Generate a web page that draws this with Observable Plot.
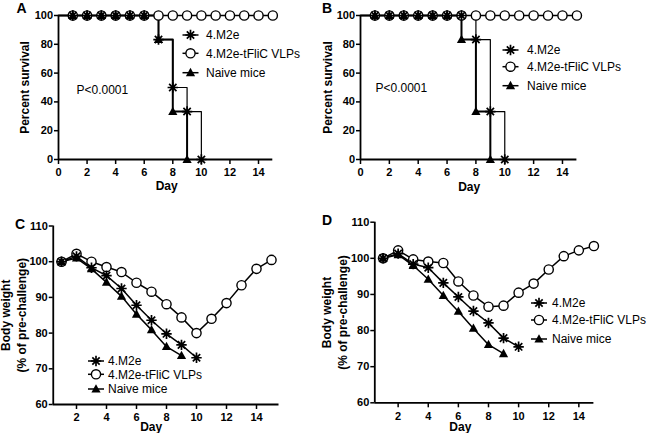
<!DOCTYPE html>
<html><head><meta charset="utf-8">
<script src="https://cdn.jsdelivr.net/npm/d3@7"></script>
<script src="https://cdn.jsdelivr.net/npm/@observablehq/plot@0.6"></script>
<style>
body{margin:0;background:#fff;}
#root{position:relative;width:650px;height:433px;overflow:hidden;background:#fff;font-family:"Liberation Sans",Arial,sans-serif;}
</style></head>
<body><div id="root"></div>
<script>
// ---------------- DATA ----------------
const seriesNames = ["4.M2e", "4.M2e-tFliC VLPs", "Naive mice"];
const panelLetters = ["A", "B", "C", "D"];
const pValueText = "P<0.0001";

const survDays = [0,1,2,3,4,5,6,7,8,9,10,11,12,13,14,15];
const survA_m2e   = [100,100,100,100,100,100,100,83.3,50,33.3,0];
const survA_vlp   = [100,100,100,100,100,100,100,100,100,100,100,100,100,100,100,100];
const survA_naive = [100,100,100,100,100,100,100,83.3,33.3,0];
const survB_m2e   = [100,100,100,100,100,100,100,100,83.3,33.3,0];
const survB_vlp   = [100,100,100,100,100,100,100,100,100,100,100,100,100,100,100,100];
const survB_naive = [100,100,100,100,100,100,100,83.3,33.3,0];

const weightDays = [1,2,3,4,5,6,7,8,9,10,11,12,13,14,15];
const wC_m2e   = [100,101.5,98.3,96.1,92.5,87.8,83.6,79.8,76.7,73.1];
const wC_vlp   = [100,102.2,100,98.5,97.1,94.1,91.6,88.1,84.4,80,84,88.4,93.4,98,100.5];
const wC_naive = [100,101,98,94.2,90.3,85.3,80.9,76.2,73.7];
const wD_m2e   = [100,101.3,98.4,97.4,93.2,89.3,85.4,82.1,77.9,75.5];
const wD_vlp   = [100,102.2,99.7,99.1,98.7,93.6,89.7,86.6,86.9,90.5,93,96.9,100.6,102.2,103.4];
const wD_naive = [100,101,98,94.2,89.7,85.3,80.6,76.1,73.6];

const survXTicks = [0,2,4,6,8,10,12,14];
const survYTicks = [0,20,40,60,80,100];
const weightXTicks = [2,4,6,8,10,12,14];
const weightYTicks = [60,70,80,90,100,110];

const survYLabel = "Percent survival";
const weightYLabel1 = "Body weight";
const weightYLabel2 = "(% of pre-challenge)";
const xLabel = "Day";

// ---------------- SYMBOLS ----------------
const ASTERISK = {draw(ctx, size) {
  const r = Math.sqrt(size / Math.PI);
  for (let k = 0; k < 4; k++) {
    const a = k * Math.PI / 4, dx = r * Math.cos(a), dy = r * Math.sin(a);
    ctx.moveTo(-dx, -dy); ctx.lineTo(dx, dy);
  }
}};
const TRIANGLE = {draw(ctx, size) {
  const r = Math.sqrt(size / Math.PI);
  ctx.moveTo(0, -r * 1.05); ctx.lineTo(r, r * 0.75); ctx.lineTo(-r, r * 0.75); ctx.closePath();
}};
const FONT = "Liberation Sans, Arial, sans-serif";
const svgStyle = {background: "transparent", overflow: "visible", fontFamily: FONT, fontSize: "11px", fontWeight: "bold", color: "black"};

const root = document.getElementById("root");
function place(el, left, top) {
  el.style.position = "absolute"; el.style.left = left + "px"; el.style.top = top + "px";
  el.style.maxWidth = "none";
  root.appendChild(el);
}

function seriesMarks(S, markers, widths) {
  const c = {x: "day", y: "v", stroke: "black"};
  return [
    Plot.line(S[1], {...c, curve: widths.curve, strokeWidth: widths.vlp}),
    Plot.line(S[0], {...c, curve: widths.curve, strokeWidth: widths.m2e}),
    Plot.line(S[2], {...c, curve: widths.curve, strokeWidth: widths.naive}),
    Plot.dot(markers[1], {x: "day", y: "v", r: 4.6, fill: "white", stroke: "black", strokeWidth: 1.4}),
    Plot.dot(markers[2], {x: "day", y: "v", symbol: TRIANGLE, r: 4.6, fill: "black", stroke: "none"}),
    Plot.dot(markers[0], {x: "day", y: "v", symbol: ASTERISK, r: 5.2, fill: "none", stroke: "black", strokeWidth: 1.7})
  ];
}

function yLabel(text, dx) {
  return Plot.text([text], {text: d => d, frameAnchor: "left", textAnchor: "middle", lineAnchor: "middle",
    rotate: -90, dx, fontSize: 12, fontWeight: "bold"});
}
function dayLabel(dx, dy) {
  return Plot.text([xLabel], {text: d => d, frameAnchor: "bottom", textAnchor: "middle", lineAnchor: "bottom",
    dx, dy, fontSize: 12, fontWeight: "bold"});
}

function survivalPlot(cfg) {
  const toRows = vals => vals.map((v, i) => ({day: survDays[i], v}));
  const S = [cfg.m2e, cfg.vlp, cfg.naive].map(toRows);
  const markers = S.map(rows => rows.filter(d => d.day >= 1));
  return Plot.plot({
    width: cfg.width, height: 215,
    marginLeft: cfg.ml, marginRight: cfg.mr, marginTop: 15, marginBottom: 56,
    style: svgStyle,
    x: {domain: [0, 15], label: null},
    y: {domain: [0, 100], label: null},
    marks: [
      Plot.axisX({ticks: survXTicks, tickSize: 5, tickPadding: 4, strokeWidth: 1.5, label: null}),
      Plot.axisY({ticks: survYTicks, tickSize: 4, tickPadding: 1.5, strokeWidth: 1.5, label: null}),
      Plot.ruleY([0], {x1: 0, x2: 15, strokeWidth: 1.8}),
      Plot.ruleX([0], {y1: 0, y2: 100, strokeWidth: 1.8}),
      ...seriesMarks(S, markers, {curve: "step-after", vlp: 1.5, m2e: 1.2, naive: 2}),
      Plot.text([{x: cfg.px, y: cfg.py, t: pValueText}], {x: "x", y: "y", text: "t", textAnchor: "start", lineAnchor: "bottom", fontSize: 12, fontWeight: "normal"}),
      yLabel(survYLabel, cfg.ylDx),
      dayLabel(cfg.dayDx, cfg.dayDy)
    ]
  });
}

function weightPlot(cfg) {
  const toRows = vals => vals.map((v, i) => ({day: weightDays[i], v}));
  const S = [cfg.m2e, cfg.vlp, cfg.naive].map(toRows);
  return Plot.plot({
    width: cfg.width, height: 218,
    marginLeft: cfg.ml, marginRight: cfg.mr, marginTop: cfg.mt, marginBottom: cfg.mb,
    style: svgStyle,
    x: {domain: cfg.xDomain, label: null},
    y: {domain: [60, 110], label: null},
    marks: [
      Plot.axisX({ticks: weightXTicks, tickSize: 5, tickPadding: 4, strokeWidth: 1.5, label: null}),
      Plot.axisY({ticks: weightYTicks, tickSize: 4, tickPadding: 1.5, strokeWidth: 1.5, label: null}),
      Plot.ruleY([60], {x1: cfg.xDomain[0], x2: cfg.xDomain[1], strokeWidth: 1.8}),
      Plot.ruleX([cfg.xDomain[0]], {y1: 60, y2: 110, strokeWidth: 1.8}),
      ...seriesMarks(S, S, {curve: "linear", vlp: 1.5, m2e: 1.5, naive: 1.5}),
      yLabel(weightYLabel1, cfg.yl1Dx),
      yLabel(weightYLabel2, cfg.yl2Dx),
      dayLabel(cfg.dayDx, cfg.dayDy)
    ]
  });
}

place(survivalPlot({m2e: survA_m2e, vlp: survA_vlp, naive: survA_naive, width: 325, ml: 58, mr: 52.7,
  px: 1.26, py: 45.6, ylDx: -33, dayDx: 1, dayDy: 30.5}), 0, 0);
place(survivalPlot({m2e: survB_m2e, vlp: survB_vlp, naive: survB_naive, width: 335, ml: 45, mr: 73.6,
  px: 1.04, py: 47.2, ylDx: -32, dayDx: 0.5, dayDy: 31}), 315, 0);
place(weightPlot({m2e: wC_m2e, vlp: wC_vlp, naive: wC_naive, width: 325, ml: 52.75, mr: 46.5, mt: 10.5, mb: 29,
  xDomain: [0.45, 15.5], yl1Dx: -46.75, yl2Dx: -30.75, dayDx: -15, dayDy: 26.5}), 0, 215);
place(weightPlot({m2e: wD_m2e, vlp: wD_vlp, naive: wD_naive, width: 335, ml: 59.3, mr: 56.6, mt: 6.7, mb: 30.7,
  xDomain: [0.45, 15], yl1Dx: -47.3, yl2Dx: -31.3, dayDx: -24, dayDy: 28}), 315, 215);

// ---------------- OVERLAY: panel letters & legends ----------------
const overlay = d3.select(root).append("svg")
  .attr("width", 650).attr("height", 433)
  .style("position", "absolute").style("left", "0px").style("top", "0px")
  .style("font-family", FONT);

const letterPos = [[16.5, 13], [322, 13], [15, 229], [322, 225]];
panelLetters.forEach((t, i) => {
  overlay.append("text").attr("x", letterPos[i][0]).attr("y", letterPos[i][1])
    .attr("font-size", 14).attr("font-weight", "bold").text(t);
});

const legendSymbols = [
  {type: ASTERISK, r: 5.2, fill: "none", stroke: "black", sw: 1.7},
  {type: d3.symbolCircle, r: 4.6, fill: "white", stroke: "black", sw: 1.4},
  {type: TRIANGLE, r: 4.6, fill: "black", stroke: "none", sw: 0}
];
function legend(cfg) {
  const g = overlay.append("g");
  seriesNames.forEach((name, i) => {
    const y = cfg.rows[i], s = legendSymbols[i];
    g.append("line").attr("x1", cfg.mx - 8).attr("x2", cfg.mx + 8).attr("y1", y).attr("y2", y)
      .attr("stroke", "black").attr("stroke-width", 1.5);
    g.append("path").attr("transform", `translate(${cfg.mx},${y})`)
      .attr("d", d3.symbol(s.type, Math.PI * s.r * s.r)())
      .attr("fill", s.fill).attr("stroke", s.stroke).attr("stroke-width", s.sw);
    g.append("text").attr("x", cfg.tx).attr("y", y + 4.3).attr("font-size", 12).text(name);
  });
}
legend({mx: 190.5, tx: 206, rows: [35, 53.3, 72.7]});
legend({mx: 510.5, tx: 527, rows: [50, 66.7, 85.7]});
legend({mx: 96, tx: 108, rows: [361, 374.3, 389]});
legend({mx: 539, tx: 552, rows: [303, 320, 339]});
</script>
</body></html>
